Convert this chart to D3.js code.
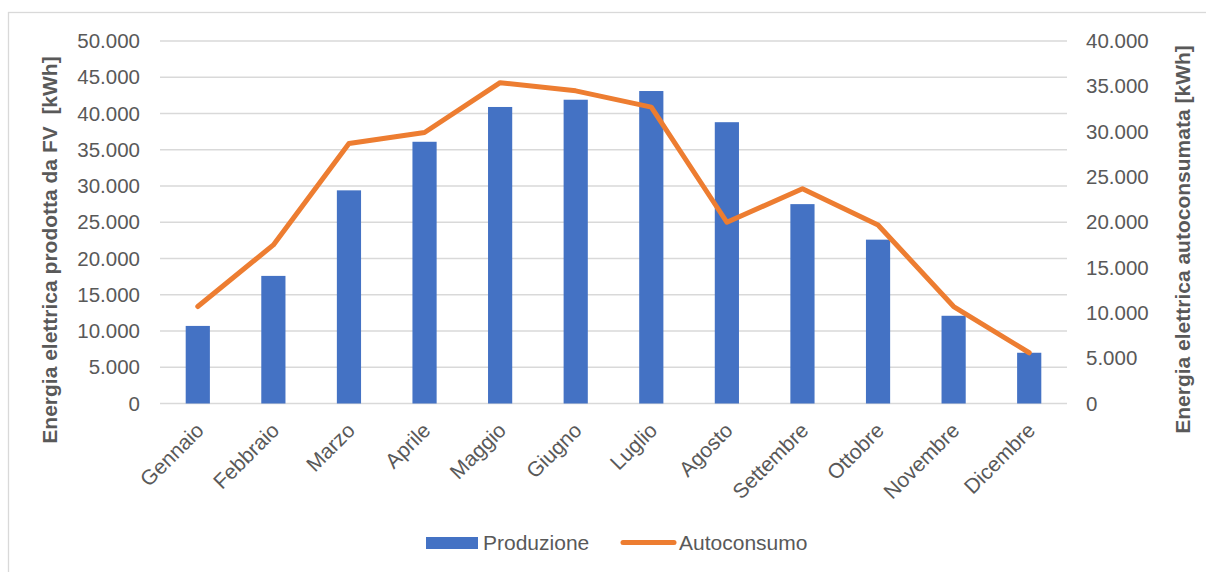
<!DOCTYPE html>
<html>
<head>
<meta charset="utf-8">
<script src="https://cdn.jsdelivr.net/npm/d3@7"></script>
<style>
  html, body { margin: 0; padding: 0; background: #fff; }
  svg { display: block; font-family: "Liberation Sans", Arial, sans-serif; }
</style>
</head>
<body>
<svg id="chart" width="1206" height="572"></svg>
<script>
// Monthly PV production and self-consumption (kWh)
const months = ["Gennaio", "Febbraio", "Marzo", "Aprile", "Maggio", "Giugno",
                "Luglio", "Agosto", "Settembre", "Ottobre", "Novembre", "Dicembre"];
const produzione = [10700, 17600, 29400, 36100, 40900, 41900,
                    43100, 38800, 27500, 22600, 12100, 7000];
const autoconsumo = [10700, 17500, 28700, 29900, 35400, 34500,
                     32700, 20000, 23700, 19700, 10700, 5600];
const leftTicks = [0, 5000, 10000, 15000, 20000, 25000, 30000, 35000, 40000, 45000, 50000];
const rightTicks = [0, 5000, 10000, 15000, 20000, 25000, 30000, 35000, 40000];
const seriesNames = ["Produzione", "Autoconsumo"];

const svg = d3.select("#chart");
const plot = { left: 160, right: 1067, top: 41, bottom: 403.5 };
const textColor = "#595959";
const blue = "#4472C4", orange = "#ED7D31";

// Thousands separator as a dot (Italian style)
const fmt = v => v === 0 ? "0" : d3.format(",")(v).replace(/,/g, ".");

// Outer chart border
svg.append("rect")
  .attr("x", 8.5).attr("y", 12.5).attr("width", 1210).attr("height", 600)
  .attr("fill", "none").attr("stroke", "#d9d9d9").attr("stroke-width", 1.3);

const x = d3.scaleBand().domain(months)
  .range([plot.left, plot.right]).paddingInner(0.68).paddingOuter(0.34);
const yL = d3.scaleLinear().domain([0, 50000]).range([plot.bottom, plot.top]);
const yR = d3.scaleLinear().domain([0, 40000]).range([plot.bottom, plot.top]);

// Horizontal gridlines
svg.append("g").selectAll("line").data(leftTicks).join("line")
  .attr("x1", plot.left).attr("x2", plot.right)
  .attr("y1", d => yL(d)).attr("y2", d => yL(d))
  .attr("stroke", "#d9d9d9").attr("stroke-width", 1.4);

// Left axis
const axL = svg.append("g").attr("transform", `translate(${plot.left - 20},0)`)
  .call(d3.axisLeft(yL).tickValues(leftTicks).tickFormat(fmt).tickSize(0).tickPadding(0));
axL.select(".domain").remove();
axL.selectAll("text").attr("fill", textColor).style("font-size", "20.5px")
  .style("font-family", "'Liberation Sans', Arial, sans-serif");

// Right axis
const axR = svg.append("g").attr("transform", `translate(${plot.right + 19},0)`)
  .call(d3.axisRight(yR).tickValues(rightTicks).tickFormat(fmt).tickSize(0).tickPadding(0));
axR.select(".domain").remove();
axR.selectAll("text").attr("fill", textColor).style("font-size", "20.5px")
  .style("font-family", "'Liberation Sans', Arial, sans-serif");

// Bars: production
svg.append("g").selectAll("rect").data(months).join("rect")
  .attr("x", d => x(d))
  .attr("width", x.bandwidth())
  .attr("y", (d, i) => yL(produzione[i]))
  .attr("height", (d, i) => yL(0) - yL(produzione[i]))
  .attr("fill", blue);

// Line: self-consumption (right axis)
const line = d3.line()
  .x((d, i) => x(months[i]) + x.bandwidth() / 2)
  .y(d => yR(d));
svg.append("path").datum(autoconsumo)
  .attr("d", line)
  .attr("fill", "none").attr("stroke", orange).attr("stroke-width", 5)
  .attr("stroke-linejoin", "round").attr("stroke-linecap", "round");

// Month labels, rotated
svg.append("g").selectAll("text").data(months).join("text")
  .attr("transform", d => `translate(${x(d) + x.bandwidth() / 2 + 2},${plot.bottom + 23}) rotate(-45)`)
  .attr("text-anchor", "end").attr("dy", "0.35em")
  .attr("fill", textColor).style("font-size", "21px")
  .text(d => d);

// Axis titles
svg.append("text")
  .attr("transform", "translate(50,250) rotate(-90)")
  .attr("text-anchor", "middle").attr("dy", "0.35em")
  .attr("fill", textColor).style("font-size", "21px").style("font-weight", "bold")
  .attr("xml:space", "preserve")
  .text("Energia elettrica prodotta da FV  [kWh]");
svg.append("text")
  .attr("transform", "translate(1183,239.5) rotate(-90)")
  .attr("text-anchor", "middle").attr("dy", "0.35em")
  .attr("fill", textColor).style("font-size", "21px").style("font-weight", "bold")
  .text("Energia elettrica autoconsumata [kWh]");

// Legend
const lg = svg.append("g");
lg.append("rect").attr("x", 426).attr("y", 537).attr("width", 52).attr("height", 12).attr("fill", blue);
lg.append("text").attr("x", 483).attr("y", 549.5).attr("fill", textColor)
  .style("font-size", "21px").text(seriesNames[0]);
lg.append("line").attr("x1", 623).attr("x2", 674).attr("y1", 542.5).attr("y2", 542.5)
  .attr("stroke", orange).attr("stroke-width", 5).attr("stroke-linecap", "round");
lg.append("text").attr("x", 679).attr("y", 549.5).attr("fill", textColor)
  .style("font-size", "21px").text(seriesNames[1]);
</script>
</body>
</html>
